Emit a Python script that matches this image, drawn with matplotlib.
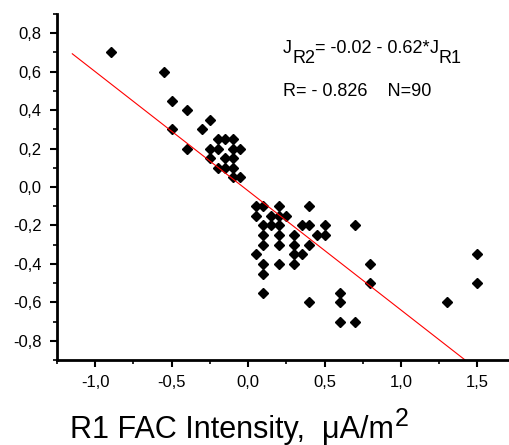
import matplotlib
matplotlib.use("Agg")
import matplotlib.pyplot as plt
import numpy as np
from matplotlib.ticker import MultipleLocator, FuncFormatter

plt.rcParams['font.family'] = ['Liberation Sans', 'DejaVu Sans']

# ---- data ----
x_r1 = [-0.9, -0.55, -0.5, -0.5, -0.4, -0.4, -0.3, -0.25,
        -0.25, -0.2, -0.15, -0.1, -0.2, -0.1, -0.05, -0.25, -0.15, -0.1,
        -0.2, -0.15, -0.1, -0.1, -0.05,
        0.05, 0.1, 0.2, 0.4,
        0.05, 0.15, 0.2, 0.25,
        0.1, 0.15, 0.2, 0.35, 0.4, 0.5, 0.7,
        0.1, 0.2, 0.3, 0.45, 0.5,
        0.1, 0.2, 0.3, 0.4,
        0.05, 0.3, 0.35,
        0.1, 0.2, 0.3,
        0.1, 0.1, 0.4, 0.6, 0.6, 0.6, 0.7, 0.8, 0.8, 1.3, 1.5, 1.5]
y_r2 = [0.7, 0.6, 0.45, 0.3, 0.4, 0.2, 0.3, 0.35,
        0.2, 0.25, 0.25, 0.25, 0.2, 0.2, 0.2, 0.15, 0.15, 0.15,
        0.1, 0.1, 0.1, 0.05, 0.05,
        -0.1, -0.1, -0.1, -0.1,
        -0.15, -0.15, -0.15, -0.15,
        -0.2, -0.2, -0.2, -0.2, -0.2, -0.2, -0.2,
        -0.25, -0.25, -0.25, -0.25, -0.25,
        -0.3, -0.3, -0.3, -0.3,
        -0.35, -0.35, -0.35,
        -0.4, -0.4, -0.4,
        -0.45, -0.55, -0.6, -0.55, -0.6, -0.7, -0.7, -0.4, -0.5, -0.6, -0.35, -0.5]
fit_intercept = -0.02
fit_slope = -0.62
fit_x = [-1.15, 1.45]
xticks = [-1.0, -0.5, 0.0, 0.5, 1.0, 1.5]
yticks = [-0.8, -0.6, -0.4, -0.2, 0.0, 0.2, 0.4, 0.6, 0.8]

W, H = 509, 445
fig = plt.figure(figsize=(W / 100, H / 100), dpi=100)
ax = fig.add_axes([57 / W, (H - 360) / H, (508 - 57) / W, (360 - 14) / H])

ax.plot(x_r1, y_r2, linestyle='none', marker='D', ms=5.5, color='black')
fx = np.array(fit_x)
ax.plot(fx, fit_intercept + fit_slope * fx, color='red', lw=0.8)

ax.set_xlim(-1.25, 1.7)
ax.set_ylim(-0.9, 0.9)
ax.set_xticks(xticks)
ax.set_yticks(yticks)
ax.xaxis.set_minor_locator(MultipleLocator(0.25))
ax.yaxis.set_minor_locator(MultipleLocator(0.1))
fmt = FuncFormatter(lambda v, p: f"{v:.1f}".replace('.', ',').replace('-0,0', '0,0'))
ax.xaxis.set_major_formatter(fmt)
ax.yaxis.set_major_formatter(fmt)
for s in ['top', 'right']:
    ax.spines[s].set_visible(False)
for s in ['left', 'bottom']:
    ax.spines[s].set_linewidth(2)
ax.tick_params(which='major', direction='out', length=5, width=1.5, labelsize=12, pad=6)
ax.tick_params(which='minor', direction='out', length=3, width=1.2)

fig.canvas.draw()
renderer = fig.canvas.get_renderer()


def seq(x0, base_y, pieces, size):
    """Place text pieces left to right; pieces = (text, px below baseline)."""
    x = x0
    for txt, dy in pieces:
        t = fig.text(x / W, (H - (base_y + dy)) / H, txt, fontsize=size,
                     ha='left', va='baseline')
        bb = t.get_window_extent(renderer)
        x = bb.x1


seq(283, 53, [("J", 0), ("R2", 10), ("= -0.02 - 0.62*", 0), ("J", 0), ("R1", 10)], 13)
seq(283, 96, [("R= - 0.826    N=90", 0)], 13)

# x label with large superscript
t = fig.text(232 / W, (H - 438) / H, "R1 FAC Intensity,  \u03bcA/m", fontsize=22,
             ha='center', va='baseline')
bb = t.get_window_extent(renderer)
fig.text(bb.x1 / W + 1 / W, (H - 432) / H + 6 / H, "2", fontsize=18, ha='left', va='baseline')

fig.savefig("out.png", dpi=100)
